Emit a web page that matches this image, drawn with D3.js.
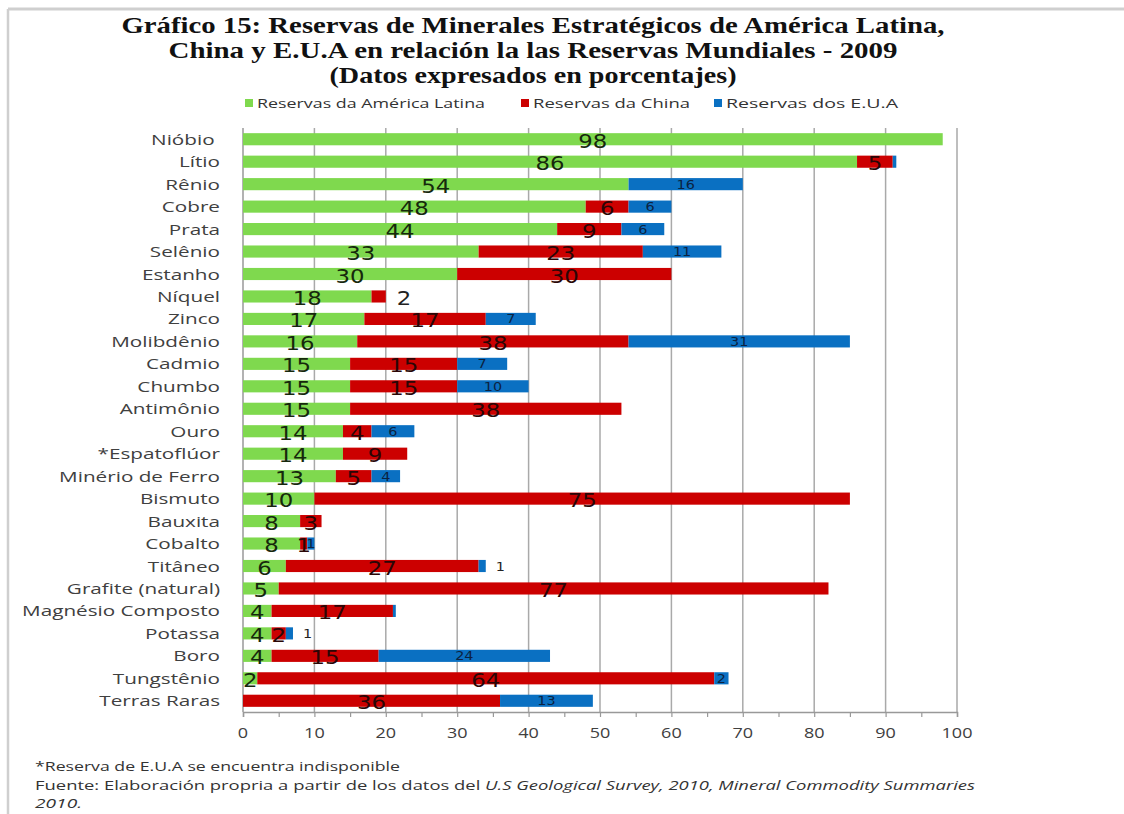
<!DOCTYPE html>
<html>
<head>
<meta charset="utf-8">
<script src="https://cdn.jsdelivr.net/npm/d3@7/dist/d3.min.js"></script>
<style>
  html, body { margin: 0; padding: 0; background: #fff; }
  svg { display: block; }
</style>
</head>
<body>
<svg id="chart" width="1124" height="814"></svg>
<script>
// Minerals, top to bottom
const minerals = ["Nióbio ","Lítio","Rênio","Cobre","Prata","Selênio","Estanho","Níquel","Zinco",
  "Molibdênio","Cadmio","Chumbo","Antimônio","Ouro","*Espatoflúor","Minério de Ferro","Bismuto",
  "Bauxita","Cobalto","Titâneo","Grafite (natural)","Magnésio Composto","Potassa","Boro",
  "Tungstênio","Terras Raras"];

// Share of world reserves (%), 2009
const latinAmerica = [98,86,54,48,44,33,30,18,17,16,15,15,15,14,14,13,10,8,8,6,5,4,4,4,2,0];
const china        = [0,5,0,6,9,23,30,2,17,38,15,15,38,4,9,5,75,3,1,27,77,17,2,15,64,36];
const usa          = [0,0.5,16,6,6,11,0,0,7,31,7,10,0,6,0,4,0,0,1,1,0,0.4,1,24,2,13];

const seriesKeys   = ["latam","china","usa"];
const seriesNames  = ["Reservas da América Latina","Reservas da China","Reservas dos E.U.A"];
const xTicks       = [0,10,20,30,40,50,60,70,80,90,100];

// labels that sit just past the end of their bar
const outsideLabels = ["Níquel|china","Titâneo|usa","Potassa|usa"];

const titleLines = [
  "Gráfico 15: Reservas de Minerales Estratégicos de América Latina,",
  "China y E.U.A en relación la las Reservas Mundiales - 2009",
  "(Datos expresados en porcentajes)"
];
const noteLine = "*Reserva de E.U.A se encuentra indisponible";

const colors = { latam: "#7fd94e", china: "#cc0000", usa: "#0a70c2" };
const labelColors = { latam: "#16280c", china: "#2a0606", usa: "#0b2240" };

const svg = d3.select("#chart");

// frame
svg.append("line").attr("x1", 8).attr("x2", 1124).attr("y1", 9).attr("y2", 9)
  .attr("stroke", "#cfcfcf").attr("stroke-width", 3);
svg.append("line").attr("x1", 8).attr("x2", 8).attr("y1", 9).attr("y2", 814)
  .attr("stroke", "#cfcfcf").attr("stroke-width", 2.5);

// title
const titleWidths = [823, 729, 407];
svg.append("g").selectAll("text").data(titleLines).join("text")
  .attr("x", 533).attr("y", (d, i) => 33 + i * 25)
  .attr("text-anchor", "middle")
  .attr("textLength", (d, i) => titleWidths[i])
  .attr("lengthAdjust", "spacingAndGlyphs")
  .style("font-family", "'Liberation Serif', 'Times New Roman', serif")
  .style("font-weight", "bold").style("font-size", "23px").attr("fill", "#111")
  .text(d => d);

// legend
const legendX = [245, 521, 714];
const legendW = [228, 157, 172];
const legend = svg.append("g").selectAll("g").data(seriesKeys).join("g")
  .attr("transform", (d, i) => `translate(${legendX[i]},103)`);
legend.append("rect").attr("x", 0).attr("y", -4).attr("width", 8).attr("height", 8)
  .attr("fill", d => colors[d]);
legend.append("text").attr("x", 12).attr("y", 5)
  .attr("textLength", (d, i) => legendW[i]).attr("lengthAdjust", "spacingAndGlyphs")
  .style("font-family", "'Open Sans', sans-serif").style("font-size", "13.5px")
  .attr("fill", "#333").text((d, i) => seriesNames[i]);

// scales
const x = d3.scaleLinear().domain([0, 100]).range([243, 957]);
const y = d3.scaleBand().domain(minerals).range([128, 712]).paddingInner(0.46).paddingOuter(0.23);

// gridlines
svg.append("g").selectAll("line").data(xTicks.slice(1)).join("line")
  .attr("x1", d => x(d)).attr("x2", d => x(d)).attr("y1", 128).attr("y2", 712)
  .attr("stroke", "#a9a9a9").attr("stroke-width", 1.5);

// bottom axis
const xAxis = d3.axisBottom(x).tickValues(d3.range(0, 101, 5)).tickSize(5).tickFormat("");
const gx = svg.append("g").attr("transform", "translate(0,712)").call(xAxis);
gx.select(".domain").attr("stroke", "#999").attr("stroke-width", 1.5);
gx.selectAll(".tick line").attr("stroke", "#999").attr("stroke-width", 1.2);
svg.append("g").selectAll("text").data(xTicks).join("text")
  .attr("transform", d => `translate(${x(d)},738) scale(1.2,1)`)
  .attr("text-anchor", "middle")
  .style("font-family", "'Open Sans', sans-serif").style("font-size", "15px")
  .attr("fill", "#404040").text(d => d);

// category axis line
svg.append("line").attr("x1", x(0)).attr("x2", x(0)).attr("y1", 128).attr("y2", 712)
  .attr("stroke", "#999").attr("stroke-width", 1.5);

// category labels
svg.append("g").selectAll("text").data(minerals).join("text")
  .attr("transform", d => `translate(220,${y(d) + y.bandwidth() / 2 + 5.5}) scale(1.38,1)`)
  .attr("text-anchor", "end")
  .style("white-space", "pre")
  .style("font-family", "'Open Sans', sans-serif").style("font-size", "15px")
  .attr("fill", "#404040").text(d => d);

// stacked bars
const rows = minerals.map((m, i) => ({ mineral: m, latam: latinAmerica[i], china: china[i], usa: usa[i] }));
const stacked = d3.stack().keys(seriesKeys)(rows);

const layers = svg.append("g").selectAll("g").data(stacked).join("g")
  .attr("fill", d => colors[d.key]);
layers.selectAll("rect").data(d => d.map(s => ({ key: d.key, s })))
  .join("rect")
  .attr("x", d => x(d.s[0]))
  .attr("y", d => y(d.s.data.mineral))
  .attr("width", d => Math.max(0, x(d.s[1]) - x(d.s[0])))
  .attr("height", y.bandwidth());

// value labels
const labelData = [];
stacked.forEach(layer => {
  layer.forEach(s => {
    const v = s.data[layer.key];
    if (v >= 1) labelData.push({ key: layer.key, mineral: s.data.mineral, v, x0: s[0], x1: s[1] });
  });
});
const isOutside = d => outsideLabels.includes(d.mineral + "|" + d.key);
svg.append("g").selectAll("text").data(labelData).join("text")
  .attr("transform", d => {
    const big = d.key !== "usa";
    const cy = y(d.mineral) + y.bandwidth() / 2 + (big ? 8.5 : 4.5);
    const cx = isOutside(d) ? x(d.x1) + (big ? 11 : 10) : x((d.x0 + d.x1) / 2);
    return `translate(${cx},${cy}) scale(1.2,1)`;
  })
  .attr("text-anchor", d => isOutside(d) ? "start" : "middle")
  .style("font-family", "'DejaVu Sans', sans-serif")
  .style("font-size", d => d.key === "usa" ? "12px" : "19px")
  .attr("fill", d => isOutside(d) ? "#222" : labelColors[d.key])
  .text(d => d.v);

// notes
const notes = svg.append("g").style("font-family", "'Open Sans', sans-serif").style("font-size", "13.5px")
  .attr("fill", "#333");
notes.append("text").attr("x", 35).attr("y", 771)
  .attr("textLength", 365).attr("lengthAdjust", "spacingAndGlyphs").text(noteLine);
const src = notes.append("text").attr("x", 35).attr("y", 790)
  .attr("textLength", 940).attr("lengthAdjust", "spacingAndGlyphs");
src.append("tspan").text("Fuente: Elaboración propria a partir de los datos del ");
src.append("tspan").style("font-style", "italic").text("U.S Geological Survey, 2010, Mineral Commodity Summaries");
notes.append("text").attr("x", 35).attr("y", 808).style("font-style", "italic")
  .attr("textLength", 47).attr("lengthAdjust", "spacingAndGlyphs").text("2010.");
</script>
</body>
</html>
